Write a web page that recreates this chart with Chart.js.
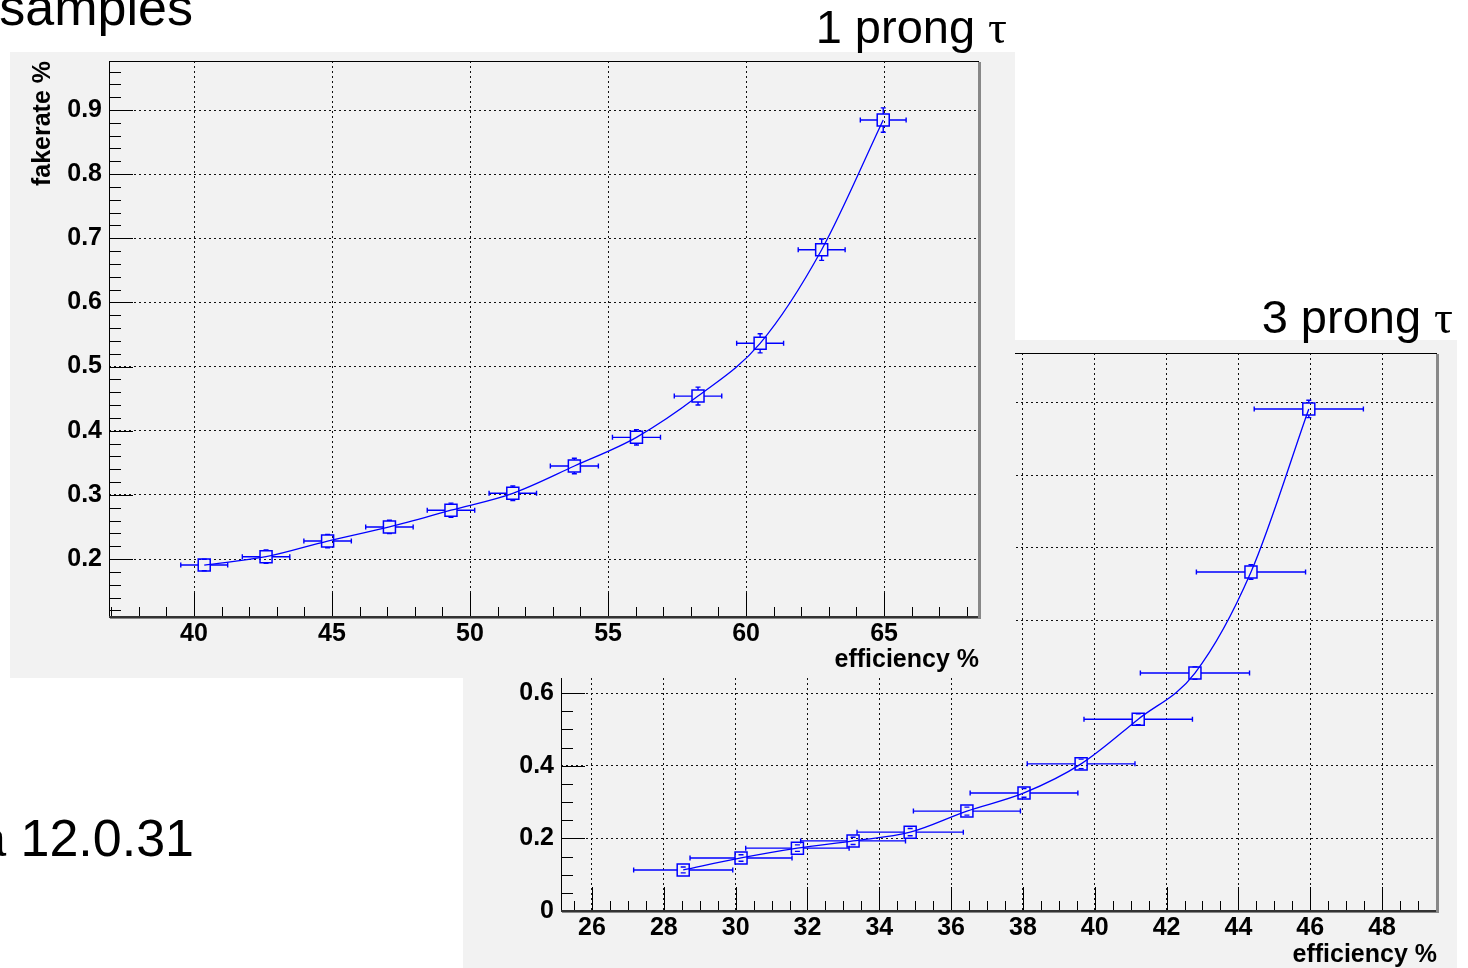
<!DOCTYPE html>
<html><head><meta charset="utf-8">
<script src="https://cdn.jsdelivr.net/npm/chart.js@4.4.1/dist/chart.umd.min.js"></script>
<style>
html,body{margin:0;padding:0;background:#fff;width:1468px;height:968px;overflow:hidden;position:relative;font-family:"Liberation Sans",Arial,sans-serif;}
.panel{position:absolute;background:#f2f2f2;}
#p1{left:10px;top:52px;width:1005px;height:626px;z-index:2;}
#p2{left:463px;top:340px;width:994px;height:628px;z-index:1;}
.txt{position:absolute;color:#000;white-space:nowrap;z-index:3;}
.big{font-size:52px;line-height:52px;}
.mid{font-size:47px;line-height:47px;}
.tau{font-family:"Liberation Serif","DejaVu Serif",serif;}
</style></head><body>
<div class="txt big" style="right:1275px;top:-19px;">samples</div>
<div class="txt big" style="right:1274px;top:812px;">Athena 12.0.31</div>
<div class="txt mid" style="right:461px;top:3px;">1 prong <span class="tau">τ</span></div>
<div class="txt mid" style="right:15px;top:293px;">3 prong <span class="tau">τ</span></div>
<div class="panel" id="p1"><canvas id="c1" width="1005" height="626"></canvas></div>
<div class="panel" id="p2"><canvas id="c2" width="994" height="628"></canvas></div>
<script>
// ---- 1 prong tau data ----
const oneProngEff      = [40.37, 42.61, 44.84, 47.08, 49.31, 51.55, 53.78, 56.03, 58.26, 60.51, 62.74, 64.97];
const oneProngFake     = [0.1906, 0.2036, 0.228, 0.250, 0.2761, 0.3025, 0.345, 0.3897, 0.454, 0.5363, 0.6822, 0.8844];
const oneProngEffErr   = [0.85, 0.86, 0.86, 0.86, 0.86, 0.86, 0.87, 0.87, 0.86, 0.85, 0.85, 0.83];
const oneProngFakeErr  = [0.009, 0.0104, 0.0104, 0.0104, 0.011, 0.0114, 0.012, 0.012, 0.014, 0.015, 0.0166, 0.019];
const oneProngXTicks   = [40, 45, 50, 55, 60, 65];
const oneProngXLabels  = ['40', '45', '50', '55', '60', '65'];
const oneProngYTicks   = [0.2, 0.3, 0.4, 0.5, 0.6, 0.7, 0.8, 0.9];
const oneProngYLabels  = ['0.2', '0.3', '0.4', '0.5', '0.6', '0.7', '0.8', '0.9'];

// ---- 3 prong tau data ----
const threeProngEff     = [28.54, 30.15, 31.72, 33.27, 34.86, 36.44, 38.03, 39.62, 41.21, 42.79, 44.35, 45.96];
const threeProngFake    = [0.113, 0.146, 0.173, 0.193, 0.217, 0.275, 0.325, 0.405, 0.528, 0.655, 0.933, 1.382];
const threeProngEffErr  = [1.38, 1.42, 1.44, 1.46, 1.48, 1.49, 1.50, 1.50, 1.51, 1.52, 1.52, 1.52];
const threeProngFakeErr = [0.008, 0.009, 0.009, 0.01, 0.01, 0.011, 0.012, 0.013, 0.015, 0.017, 0.02, 0.024];
const threeProngXTicks  = [26, 28, 30, 32, 34, 36, 38, 40, 42, 44, 46, 48];
const threeProngXLabels = ['26', '28', '30', '32', '34', '36', '38', '40', '42', '44', '46', '48'];
const threeProngYTicks  = [0, 0.2, 0.4, 0.6, 0.8, 1.0, 1.2, 1.4];
const threeProngYLabels = ['0', '0.2', '0.4', '0.6', '0.8', '1', '1.2', '1.4'];

const BLUE = '#0000ff';
const FONT = '"Liberation Sans", Arial, sans-serif';

const rootFrame = {
  id: 'rootFrame',
  beforeDatasetsDraw(chart, args, o) {
    const {ctx, scales: {x, y}} = chart;
    const ds = chart.data.datasets[0];
    ctx.save();
    ctx.strokeStyle = BLUE;
    ctx.lineWidth = 1.4;
    const half = 6, cap = 2.5;
    ds.data.forEach((pt, i) => {
      const px = x.getPixelForValue(pt.x), py = y.getPixelForValue(pt.y);
      const xl = x.getPixelForValue(pt.x - o.xErr[i]), xr = x.getPixelForValue(pt.x + o.xErr[i]);
      const yt = y.getPixelForValue(pt.y + o.yErr[i]), yb = y.getPixelForValue(pt.y - o.yErr[i]);
      ctx.beginPath();
      ctx.moveTo(xl, py); ctx.lineTo(px - half, py);
      ctx.moveTo(px + half, py); ctx.lineTo(xr, py);
      ctx.moveTo(xl, py - cap); ctx.lineTo(xl, py + cap);
      ctx.moveTo(xr, py - cap); ctx.lineTo(xr, py + cap);
      if (yt < py - half) { ctx.moveTo(px, py - half); ctx.lineTo(px, yt); }
      if (yb > py + half) { ctx.moveTo(px, py + half); ctx.lineTo(px, yb); }
      ctx.moveTo(px - cap, yt); ctx.lineTo(px + cap, yt);
      ctx.moveTo(px - cap, yb); ctx.lineTo(px + cap, yb);
      ctx.stroke();
    });
    ctx.restore();
  },
  afterDraw(chart, args, o) {
    const {ctx, chartArea: a, scales: {x, y}} = chart;
    ctx.save();
    ctx.strokeStyle = '#000';
    ctx.lineWidth = 1;
    const tick = (scale, step, majors, majLen, minLen, horiz) => {
      const s = Math.ceil(scale.min / step - 1e-6), e = Math.floor(scale.max / step + 1e-6);
      ctx.beginPath();
      for (let k = s; k <= e; k++) {
        const v = k * step;
        const major = majors.some(m => Math.abs(m - v) < step / 10);
        const len = major ? majLen : minLen;
        const p = Math.round(scale.getPixelForValue(v)) + 0.5;
        if (horiz) { ctx.moveTo(p, a.bottom); ctx.lineTo(p, a.bottom - len); }
        else { ctx.moveTo(a.left, p); ctx.lineTo(a.left + len, p); }
      }
      ctx.stroke();
    };
    tick(x, o.xMinor, o.xMajors, 24, 10, true);
    tick(y, o.yMinor, o.yMajors, 24, 12, false);
    // frame
    ctx.strokeRect(a.left + 0.5, a.top + 0.5, a.right - a.left - 1, a.bottom - a.top - 1);
    ctx.fillStyle = '#333';
    ctx.fillRect(a.left, a.bottom - 1, a.right - a.left + 2, 2);
    ctx.fillStyle = '#888';
    ctx.fillRect(a.right - 1, a.top + 1, 3, a.bottom - a.top + 1);
    ctx.fillRect(a.left + 1, a.bottom + 1, a.right - a.left + 1, 1);
    ctx.restore();
  }
};

function zeroPad(s) { s.paddingTop = 0; s.paddingBottom = 0; s.paddingLeft = 0; s.paddingRight = 0; }

function makeChart(id, eff, fake, effErr, fakeErr, xr, yr, xt, xl, yt, yl, xMinor, yMinor, pad, yW, xH, yTitle, xTitlePad) {
  return new Chart(document.getElementById(id), {
    type: 'scatter',
    data: {
      datasets: [{
        data: eff.map((v, i) => ({x: v, y: fake[i]})),
        showLine: true,
        borderColor: BLUE,
        borderWidth: 1.3,
        cubicInterpolationMode: 'monotone',
        pointStyle: 'rect',
        pointRadius: 8.5,
        pointHoverRadius: 8.5,
        pointBorderWidth: 1.5,
        pointBorderColor: BLUE,
        pointBackgroundColor: 'rgba(0,0,0,0)',
        clip: false
      }]
    },
    options: {
      responsive: false,
      animation: false,
      devicePixelRatio: 1,
      events: [],
      layout: {padding: pad, autoPadding: false},
      plugins: {
        legend: {display: false},
        tooltip: {enabled: false},
        rootFrame: {xErr: effErr, yErr: fakeErr, xMinor, yMinor, xMajors: xt, yMajors: yt}
      },
      scales: {
        x: {
          type: 'linear', min: xr[0], max: xr[1],
          afterBuildTicks: s => { s.ticks = xt.map(v => ({value: v})); },
          afterFit: s => { s.height = xH; zeroPad(s); },
          grid: {color: '#111', lineWidth: 1, drawTicks: false},
          border: {display: false, dash: [2, 3]},
          ticks: {autoSkip: false, maxRotation: 0, minRotation: 0, padding: 2, color: '#000',
                  font: {family: FONT, size: 25, weight: 'bold'},
                  callback: (v, i) => xl[i]},
          title: {display: true, text: 'efficiency %', align: 'end', color: '#000',
                  font: {family: FONT, size: 25, weight: 'bold', lineHeight: 1},
                  padding: {top: 0, bottom: xTitlePad}}
        },
        y: {
          type: 'linear', min: yr[0], max: yr[1],
          afterBuildTicks: s => { s.ticks = yt.map(v => ({value: v})); },
          afterFit: s => { s.width = yW; zeroPad(s); },
          grid: {color: '#111', lineWidth: 1, drawTicks: false},
          border: {display: false, dash: [2, 3]},
          ticks: {autoSkip: false, padding: 7, color: '#000',
                  font: {family: FONT, size: 25, weight: 'bold'},
                  callback: (v, i) => yl[i]},
          title: {display: yTitle, text: 'fakerate %', align: 'end', color: '#000',
                  font: {family: FONT, size: 25, weight: 'bold', lineHeight: 1},
                  padding: {top: 21, bottom: 0}}
        }
      }
    },
    plugins: [rootFrame]
  });
}

const chart1 = makeChart('c1', oneProngEff, oneProngFake, oneProngEffErr, oneProngFakeErr,
  [36.92, 68.44], [0.1096, 0.9764], oneProngXTicks, oneProngXLabels, oneProngYTicks, oneProngYLabels,
  1, 0.02, {left: 0, top: 9, right: 36, bottom: 0}, 99, 61, true, 5);

const chart2 = makeChart('c2', threeProngEff, threeProngFake, threeProngEffErr, threeProngFakeErr,
  [25.137, 49.53], [0, 1.536], threeProngXTicks, threeProngXLabels, threeProngYTicks, threeProngYLabels,
  0.5, 0.05, {left: 0, top: 13, right: 20, bottom: 0}, 98, 57, false, 0);
</script>
</body></html>
